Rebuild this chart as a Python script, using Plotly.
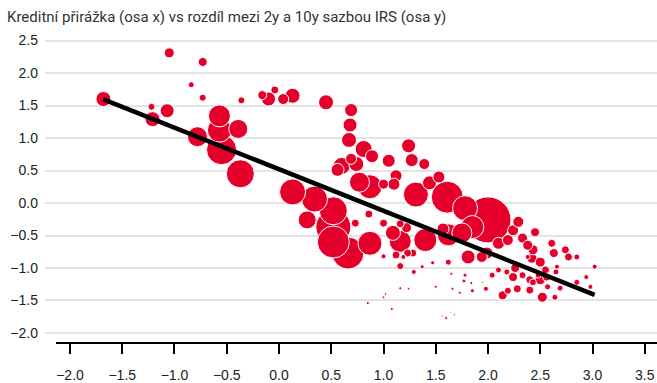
import numpy as np
import plotly.graph_objects as go

# Credit spread (x) vs. 2y-10y IRS spread (y); bubble size = weight of the observation
kredit = [
    -1.68, -1.05, -0.73, -0.84, -0.73, -1.22, -1.07, -1.21, -0.78, -0.57,
    -0.57, -0.55, -0.39, -0.37, -0.36, -0.16, -0.10, -0.04, 0.04, 0.13,
    0.45, 0.13, 0.34, 0.27, 0.52, 0.52, 0.52, 0.66, 0.87,
    0.69, 0.68, 0.67, 0.81, 0.89, 0.69, 0.74, 0.60, 0.56, 1.05,
    1.24, 1.27, 1.39, 1.12, 1.10, 0.77, 0.87, 1.00, 1.31, 1.53,
    1.44, 1.61, 1.78, 2.00, 1.85, 1.75, 1.62, 1.40, 1.16, 1.09,
    1.22, 0.73, 0.86, 1.00, 1.16,
    2.29, 2.24, 2.33, 2.19, 1.94, 1.99, 2.10, 1.28, 1.62, 1.47,
    1.37, 1.81, 1.19, 2.38, 2.45, 2.38, 2.43, 2.61, 2.63, 2.74,
    2.77, 2.85, 2.42, 2.50, 2.55, 3.02, 2.66, 2.65, 2.26, 2.33,
    2.24, 2.10, 2.04, 2.18, 2.40, 2.50, 2.57, 2.69, 2.85, 2.94,
    2.98, 2.40, 2.52, 2.64, 2.28, 2.19, 2.14, 1.98, 1.95, 2.56,
    2.43, 2.48, 1.23, 1.57, 1.12,
    1.00, 1.16, 1.29, 1.65, 1.78, 1.77, 1.84, 1.85, 1.73, 1.66,
    1.50, 1.24, 1.16, 1.02, 1.00, 0.85, 1.08, 1.60, 1.56, 1.68,
    1.64,
]
irs = [
    1.60, 2.31, 2.17, 1.82, 1.62, 1.48, 1.42, 1.29, 1.02, 1.34,
    1.12, 0.82, 1.14, 0.45, 1.58, 1.66, 1.60, 1.74, 1.60, 1.65,
    1.55, 0.17, 0.06, -0.26, -0.12, -0.37, -0.60, -0.77, -0.62,
    1.43, 1.20, 0.97, 0.83, 0.72, 0.68, 0.60, 0.57, 0.51, 0.65,
    0.88, 0.66, 0.60, 0.42, 0.29, 0.32, 0.25, 0.29, 0.13, 0.40,
    0.31, 0.09, -0.08, -0.26, -0.37, -0.46, -0.49, -0.57, -0.59, -0.46,
    -0.38, -0.31, -0.17, -0.31, -0.32,
    -0.29, -0.42, -0.54, -0.57, -0.83, -0.77, -0.62, -0.77, -0.91, -0.92,
    -0.98, -0.83, -0.83, -0.83, -0.45, -0.65, -0.72, -0.62, -0.77, -0.72,
    -0.83, -0.83, -0.85, -0.91, -1.03, -0.98, -0.98, -1.06, -1.00, -1.11,
    -1.14, -1.03, -1.11, -1.06, -1.18, -1.18, -1.29, -1.31, -1.22, -1.14,
    -1.29, -1.34, -1.45, -1.45, -1.32, -1.35, -1.42, -1.32, -1.22, -1.14,
    -1.22, -1.11, -0.77, -0.40, -0.80,
    -0.82, -0.97, -1.06, -1.09, -1.11, -1.20, -1.23, -1.35, -1.38, -1.32,
    -1.29, -1.32, -1.31, -1.40, -1.45, -1.54, -1.63, -1.77, -1.74, -1.72,
    -1.68,
]
velikost = [
    15, 10, 9, 6, 7, 7, 14, 15, 20, 22,
    24, 30, 19, 28, 7, 9, 14, 8, 11, 15,
    15, 26, 26, 18, 28, 35, 32, 32, 24,
    13, 14, 15, 17, 13, 11, 15, 17, 13, 13,
    14, 13, 11, 12, 12, 20, 24, 10, 25, 12,
    14, 32, 25, 46, 23, 20, 22, 23, 22, 15,
    10, 8, 8, 8, 8,
    11, 11, 10, 11, 11, 12, 12, 8, 6, 4,
    4, 14, 5, 5, 9, 10, 10, 8, 9, 8,
    8, 6, 10, 10, 8, 5, 5, 6, 9, 7,
    9, 6, 6, 6, 8, 10, 6, 6, 6, 5,
    5, 8, 10, 6, 8, 7, 9, 5, 2, 8,
    7, 6, 8, 12, 8,
    5, 7, 5, 3, 4, 4, 3, 4, 3, 3,
    3, 2.5, 3, 2.5, 2.5, 3, 3, 3, 2, 2,
    1.5,
]

# Linear trend: y = posun + sklon * x
trend_sklon = -0.64
trend_posun = 0.52

titulek = "Kreditní přirážka (osa x) vs rozdíl mezi 2y a 10y sazbou IRS (osa y)"

W, H = 657, 383
M_L, M_R, M_T, M_B = 45, 0, 35, 40
X_RANGE = [-2.239, 3.617]
Y_RANGE = [-2.154, 2.585]

# big bubbles first so the small ones stay visible on top
order = np.argsort(np.array(velikost))[::-1]
bx = np.array(kredit)[order]
by = np.array(irs)[order]
bs = np.array(velikost)[order]

fig = go.Figure()
fig.add_trace(go.Scatter(
    x=bx, y=by, mode="markers",
    marker=dict(size=bs, sizemode="diameter", sizeref=1, opacity=1,
                color="#E4002B", line=dict(color="white", width=1)),
    hoverinfo="skip", showlegend=False,
))

tx = np.array([min(kredit), max(kredit)])
fig.add_trace(go.Scatter(
    x=tx, y=trend_posun + trend_sklon * tx, mode="lines",
    line=dict(color="black", width=4.5),
    hoverinfo="skip", showlegend=False,
))

# x-axis baseline starts a bit right of the gridlines
fig.add_shape(type="line", xref="paper", yref="paper",
              x0=11 / (W - M_L - M_R), x1=1, y0=0, y1=0,
              line=dict(color="black", width=2), layer="above")

tick_font = dict(family="Liberation Sans, Arial, sans-serif", size=14, color="#222222")

fig.update_layout(
    width=W, height=H,
    margin=dict(l=M_L, r=M_R, t=M_T, b=M_B, pad=0),
    paper_bgcolor="white", plot_bgcolor="white",
    title=dict(text=titulek, x=7 / W, xanchor="left", xref="container",
               y=1 - 17 / H, yanchor="middle", yref="container",
               font=dict(family="Roboto, sans-serif", size=15, color="#333333")),
    xaxis=dict(range=X_RANGE, tickmode="array",
               tickvals=[-2.0, -1.5, -1.0, -0.5, 0.0, 0.5, 1.0, 1.5, 2.0, 2.5, 3.0, 3.5],
               tickformat=".1f", showgrid=False, zeroline=False, showline=False,
               ticks="outside", ticklen=10, tickwidth=2, tickcolor="black",
               tickfont=tick_font, ticklabelstandoff=9),
    yaxis=dict(range=Y_RANGE, tickmode="array",
               tickvals=[-2.0, -1.5, -1.0, -0.5, 0.0, 0.5, 1.0, 1.5, 2.0, 2.5],
               tickformat=".1f", showgrid=True, gridcolor="#e4e4e4", gridwidth=1.5,
               zeroline=False, showline=False, ticks="",
               tickfont=tick_font, ticklabelstandoff=6),
)

fig.write_html("out.html")
